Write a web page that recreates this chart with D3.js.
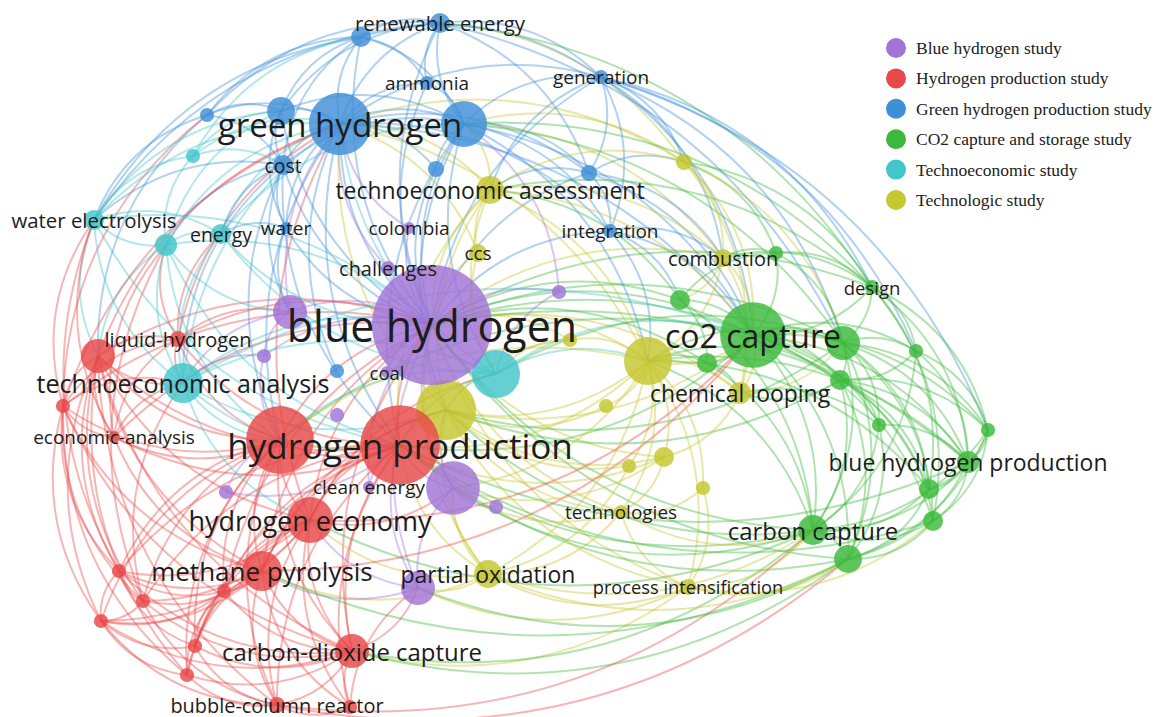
<!DOCTYPE html>
<html>
<head>
<meta charset="utf-8">
<script src="https://cdn.jsdelivr.net/npm/d3@7"></script>
<style>
  html, body { margin: 0; padding: 0; background: #fff; }
  svg { display: block; }
  .label { font-family: "Open Sans", sans-serif; fill: #1c1c1c; }
  .legend text { font-family: "Liberation Serif", "Times New Roman", serif; fill: #222; }
</style>
</head>
<body>
<svg id="map"></svg>
<script>
// Co-occurrence map (VOSviewer style) redrawn with d3

const WIDTH = 1158;
const HEIGHT = 717;

/** Clusters, in legend order */
const CLUSTERS = [
  "Blue hydrogen study",
  "Hydrogen production study",
  "Green hydrogen production study",
  "CO2 capture and storage study",
  "Technoeconomic study",
  "Technologic study"
];
const CLUSTER_COLORS = ["#a173d6", "#e84848", "#3f8fd8", "#3cb93c", "#42c6ca", "#c6c62e"];

/** Keywords: id, label ("" = not shown), cluster, map x, map y, occurrences, link strength */
const NODES_PURPLE = [
  ["p1", "blue hydrogen", 0, 432, 325, 100, 200],
  ["p2", "", 0, 290, 312, 8, 0],
  ["p3", "challenges", 0, 388, 268, 1.4, 43],
  ["p4", "colombia", 0, 409, 228, 1.0, 39],
  ["p5", "", 0, 559, 292, 1.4, 0],
  ["p6", "", 0, 264, 356, 1.4, 0],
  ["p7", "", 0, 337, 415, 1.4, 0],
  ["p8", "", 0, 453, 488, 20, 0],
  ["p9", "", 0, 496, 507, 1.4, 0],
  ["p10", "", 0, 226, 492, 1.4, 0],
  ["p11", "", 0, 418, 588, 8, 0],
  ["p12", "clean energy", 0, 369, 487, 1.0, 39],
  ["p13", "coal", 0, 387, 372, 1.0, 37]
];
const NODES_RED = [
  ["r1", "hydrogen production", 1, 400, 445, 44, 133],
  ["r2", "", 1, 280, 440, 32, 0],
  ["r3", "hydrogen economy", 1, 310, 520, 14.7, 79],
  ["r4", "methane pyrolysis", 1, 262, 571, 11, 73],
  ["r5", "carbon-dioxide capture", 1, 352, 651, 8, 62],
  ["r6", "bubble-column reactor", 1, 277, 705, 1.8, 43],
  ["r7", "liquid-hydrogen", 1, 178, 339, 1.8, 43],
  ["r8", "", 1, 98, 356, 8, 0],
  ["r9", "economic-analysis", 1, 114, 437, 1.0, 39],
  ["r10", "", 1, 63, 406, 1.4, 0],
  ["r11", "", 1, 119, 571, 1.4, 0],
  ["r12", "", 1, 143, 601, 1.4, 0],
  ["r13", "", 1, 101, 621, 1.4, 0],
  ["r14", "", 1, 224, 591, 1.4, 0],
  ["r15", "", 1, 195, 646, 1.4, 0],
  ["r16", "", 1, 187, 675, 1.4, 0],
  ["r17", "", 1, 350, 707, 1.4, 0]
];
const NODES_BLUE = [
  ["b1", "green hydrogen", 2, 340, 124, 27, 118],
  ["b2", "", 2, 281, 111, 5.4, 0],
  ["b3", "", 2, 464, 124, 14.7, 0],
  ["b4", "", 2, 207, 115, 1.4, 0],
  ["b5", "renewable energy", 2, 440, 23, 2.8, 45],
  ["b6", "", 2, 361, 37, 2.8, 0],
  ["b7", "ammonia", 2, 427, 83, 1.4, 39],
  ["b8", "generation", 2, 601, 77, 1.4, 39],
  ["b9", "cost", 2, 283, 165, 2.8, 41],
  ["b10", "", 2, 436, 169, 1.8, 0],
  ["b11", "", 2, 589, 173, 1.8, 0],
  ["b12", "integration", 2, 610, 231, 1.4, 39],
  ["b13", "water", 2, 286, 228, 1.0, 39],
  ["b14", "", 2, 337, 371, 1.4, 0]
];
const NODES_GREEN = [
  ["g1", "co2 capture", 3, 753, 335, 30, 111],
  ["g2", "", 3, 843, 343, 8, 0],
  ["g3", "", 3, 680, 300, 2.8, 0],
  ["g4", "", 3, 707, 363, 2.8, 0],
  ["g5", "", 3, 776, 253, 1.4, 0],
  ["g6", "design", 3, 872, 287, 1.4, 37],
  ["g7", "", 3, 840, 380, 2.8, 0],
  ["g8", "", 3, 916, 351, 1.4, 0],
  ["g9", "", 3, 879, 425, 1.4, 0],
  ["g10", "", 3, 988, 430, 1.4, 0],
  ["g11", "blue hydrogen production", 3, 968, 462, 3.4, 57],
  ["g12", "", 3, 929, 489, 2.8, 0],
  ["g13", "", 3, 933, 521, 2.8, 0],
  ["g14", "carbon capture", 3, 813, 530, 6.2, 62],
  ["g15", "", 3, 848, 559, 5.4, 0]
];
const NODES_CYAN = [
  ["t1", "water electrolysis", 4, 94, 220, 2.8, 45],
  ["t2", "", 4, 193, 156, 1.4, 0],
  ["t3", "", 4, 166, 245, 3.4, 0],
  ["t4", "energy", 4, 221, 234, 2.8, 41],
  ["t5", "technoeconomic analysis", 4, 183, 383, 11, 68],
  ["t6", "", 4, 496, 374, 16, 0]
];
const NODES_YELLOW = [
  ["y1", "technoeconomic assessment", 5, 490, 190, 5.4, 57],
  ["y2", "", 5, 684, 162, 1.8, 0],
  ["y3", "ccs", 5, 478, 253, 2.2, 39],
  ["y4", "combustion", 5, 723, 258, 2.2, 43],
  ["y5", "", 5, 446, 410, 25, 0],
  ["y6", "", 5, 648, 361, 16, 0],
  ["y7", "chemical looping", 5, 740, 393, 3.4, 57],
  ["y8", "", 5, 570, 340, 1.4, 0],
  ["y9", "", 5, 606, 406, 1.4, 0],
  ["y10", "", 5, 664, 457, 2.8, 0],
  ["y11", "", 5, 629, 466, 1.4, 0],
  ["y12", "", 5, 703, 488, 1.4, 0],
  ["y13", "technologies", 5, 621, 512, 1.4, 39],
  ["y14", "process intensification", 5, 688, 587, 1.8, 36],
  ["y15", "partial oxidation", 5, 488, 574, 5.4, 57]
];

/** Co-occurrence links: first id, then the ids it is linked with */
const LINKS = [
  "p1: r1 r2 r3 r4 r5 r7 r8 r9 r10 r14 b1 b2 b3 b5 b6 b7 b8 b9 b10 b11 b12 b13 t1 t3 t4 t5 t6 y1 y3 y4 y5 y6 y7 y8 y10 y13 y14 y15 g1 g2 g3 g4 g6 g7 g11 g14 g15 p2 p3 p4 p5 p6 p8 p11 p12 p13",
  "r1: r2 r3 r4 r5 r6 r7 r8 r9 r11 r12 r14 r15 r17 b1 b3 b9 t5 t6 t3 y5 y6 y15 y10 g1 g14 g15 p8 p11 p10 p12 y1 t1 g11 g13",
  "r2: r3 r4 r5 r7 r8 r9 r10 r11 r12 r13 r14 r15 r16 b1 b9 t5 t3 p6 p10 y5 g1 r6",
  "r3: r4 r5 r6 r8 r11 r12 r13 r14 r15 r16 r17 p8 p11 y15 g14 t5 b1",
  "r4: r5 r6 r8 r9 r10 r11 r12 r13 r14 r15 r16 r17 y15 p11 g1 g15",
  "r5: r6 r8 r10 r11 r12 r13 r14 r15 r16 r17 y14 g15 g14 p11",
  "r8: r9 r10 r11 r12 r13 r7 b4 b1 t1 t3 t5 r6 r16",
  "r10: r11 r12 r13 r9 t1 b4 r16",
  "r7: r9 r10 t5 b1 t3 t4",
  "r6: r12 r13 r15 r16 r17 g15 g14",
  "r13: r11 r12 r14 r15 r16",
  "r11: r12 r14 r15",
  "r14: r15 r16",
  "b1: b2 b3 b4 b5 b6 b7 b8 b9 b10 b11 b12 b13 b14 t1 t2 t3 t4 t5 t6 y1 y2 y3 p2 p3 p4 g1 y5 y6 r10",
  "b3: b5 b6 b7 b8 b10 b11 b12 b9 y1 y2 y4 g1 g2 g6 t6 y6 p5 t4 b2",
  "b2: b4 b5 b6 b9 t1 t2 t3 b13",
  "b5: b6 b7 b8 b11 b4 y2 g6 g2 t1",
  "b6: b4 b7 b9 t1 t2 b8",
  "b8: b11 b12 y2 g1 g6 g2 g8 y4 y1 g10",
  "b9: t1 t3 t4 b13 t5 b4 t2",
  "b11: b12 y1 y2 g1 y4",
  "b12: g1 y4 y6 g3",
  "t1: t2 t3 t4 t5 b4 r9 r11",
  "t3: t4 t5 t2 r9 r12",
  "t4: t5 b13 t6",
  "t5: t6 p6 r9 r10 r12",
  "t6: y5 y6 g1 y1 y3 p5 y8 r2 b3 g2 r3",
  "y1: y2 y3 y4 y5 y6 g1 g3 g6",
  "y2: y4 g1 g5 g6 y7 g2",
  "y5: y6 y15 y10 y11 g1 g14 y13 y14 y8 y9 r2 r3 r4 t5 b1 b3 g2 g7",
  "y6: y7 y8 y9 y10 y11 y12 y13 y14 g1 g2 g4 g7 g11 g14 g12 r1 r2 b1 b3 p8",
  "y7: g1 g2 g4 g7 y10 g9",
  "y15: y13 y14 y11 g14 g15 p11 y6",
  "y14: g14 g15 g13 y12 y13",
  "y13: y12 g14 y10",
  "y4: g1 g5 g6 g3 y6 y7",
  "g1: g2 g3 g4 g5 g6 g7 g8 g9 g10 g11 g12 g13 g14 g15 r2 r3 b3 t5",
  "g2: g5 g6 g7 g8 g9 g10 g11 g12 g13 g14 g15",
  "g7: g8 g9 g10 g11 g12 g13 g14 g15",
  "g11: g6 g8 g9 g10 g12 g13 g14 g15",
  "g14: g8 g9 g10 g12 g13 g15 g3 g4",
  "g15: g9 g10 g12 g13",
  "g6: g8 g10 g5 g12 g13",
  "g10: g8 g12 g13",
  "g3: g4 g5 g14",
  "p8: y5 y15 y10 p9 p11 y13 g14",
  "p2: t5 r7 b9 b13 t3 p6",
  "p11: y14 g15 r17"
];

(function() {
  const svg = d3.select("#map").attr("width", WIDTH).attr("height", HEIGHT);

  const nodes = []
    .concat(NODES_PURPLE, NODES_RED, NODES_BLUE, NODES_GREEN, NODES_CYAN, NODES_YELLOW)
    .map(d => ({
      id: d[0], label: d[1], cluster: d[2], mx: d[3], my: d[4], occ: d[5], strength: d[6]
    }));
  const byId = new Map(nodes.map(d => [d.id, d]));

  /** Turn the adjacency strings into unique source/target pairs. */
  function readLinks(rows) {
    const seen = new Set();
    const out = [];
    rows.forEach(row => {
      const [src, rest] = row.split(":");
      rest.trim().split(/\s+/).forEach(tgt => {
        const key = [src, tgt].sort().join("|");
        if (seen.has(key) || !byId.has(tgt)) return;
        seen.add(key);
        out.push({ source: byId.get(src), target: byId.get(tgt) });
      });
    });
    return out;
  }
  const links = readLinks(LINKS);

  const x = d3.scaleLinear().domain([0, 1158]).range([0, WIDTH]);
  const y = d3.scaleLinear().domain([0, 717]).range([0, HEIGHT]);
  const radius = d3.scaleSqrt().domain([0, 100]).range([0, 60]);
  const fontSize = d3.scaleSqrt().domain([0, 200]).range([0, 43]);
  const color = d3.scaleOrdinal().domain(d3.range(CLUSTERS.length)).range(CLUSTER_COLORS);

  const cx = x(560), cy = y(380);

  /** Curved link: quadratic arc bending away from the map centre. */
  function arc(d) {
    const x1 = x(d.source.mx), y1 = y(d.source.my);
    const x2 = x(d.target.mx), y2 = y(d.target.my);
    const dx = x2 - x1, dy = y2 - y1;
    const len = Math.sqrt(dx * dx + dy * dy) || 1;
    let px = -dy / len, py = dx / len;
    const mxp = (x1 + x2) / 2, myp = (y1 + y2) / 2;
    if ((mxp - cx) * px + (myp - cy) * py < 0) { px = -px; py = -py; }
    const bend = len * 0.24;
    return `M${x1},${y1}Q${mxp + px * bend},${myp + py * bend} ${x2},${y2}`;
  }

  // links take the colour of their smaller keyword
  svg.append("g")
    .attr("fill", "none")
    .selectAll("path")
    .data(links)
    .enter()
    .append("path")
    .attr("d", arc)
    .attr("stroke", d => color((d.source.occ <= d.target.occ ? d.source : d.target).cluster))
    .attr("stroke-opacity", 0.4)
    .attr("stroke-width", 2);

  const ordered = nodes.slice().sort((a, b) => a.occ - b.occ);

  svg.append("g")
    .selectAll("circle")
    .data(ordered)
    .enter()
    .append("circle")
    .attr("cx", d => x(d.mx))
    .attr("cy", d => y(d.my))
    .attr("r", d => radius(d.occ))
    .attr("fill", d => color(d.cluster))
    .attr("fill-opacity", 0.82);

  svg.append("g")
    .selectAll("text")
    .data(ordered.filter(d => d.label))
    .enter()
    .append("text")
    .classed("label", true)
    .attr("x", d => x(d.mx))
    .attr("y", d => y(d.my))
    .attr("text-anchor", "middle")
    .attr("dominant-baseline", "central")
    .style("font-size", d => fontSize(d.strength) + "px")
    .text(d => d.label);

  // legend
  const legend = svg.append("g").classed("legend", true);
  const rowY = d3.scalePoint().domain(CLUSTERS).range([48, 200]);
  const item = legend.selectAll("g")
    .data(CLUSTERS)
    .enter()
    .append("g")
    .attr("transform", d => `translate(896,${rowY(d)})`);
  item.append("circle")
    .attr("r", 10)
    .attr("fill", (d, i) => color(i));
  item.append("text")
    .attr("x", 20)
    .attr("dominant-baseline", "central")
    .style("font-size", "17.5px")
    .text(d => d);
})();
</script>
</body>
</html>
